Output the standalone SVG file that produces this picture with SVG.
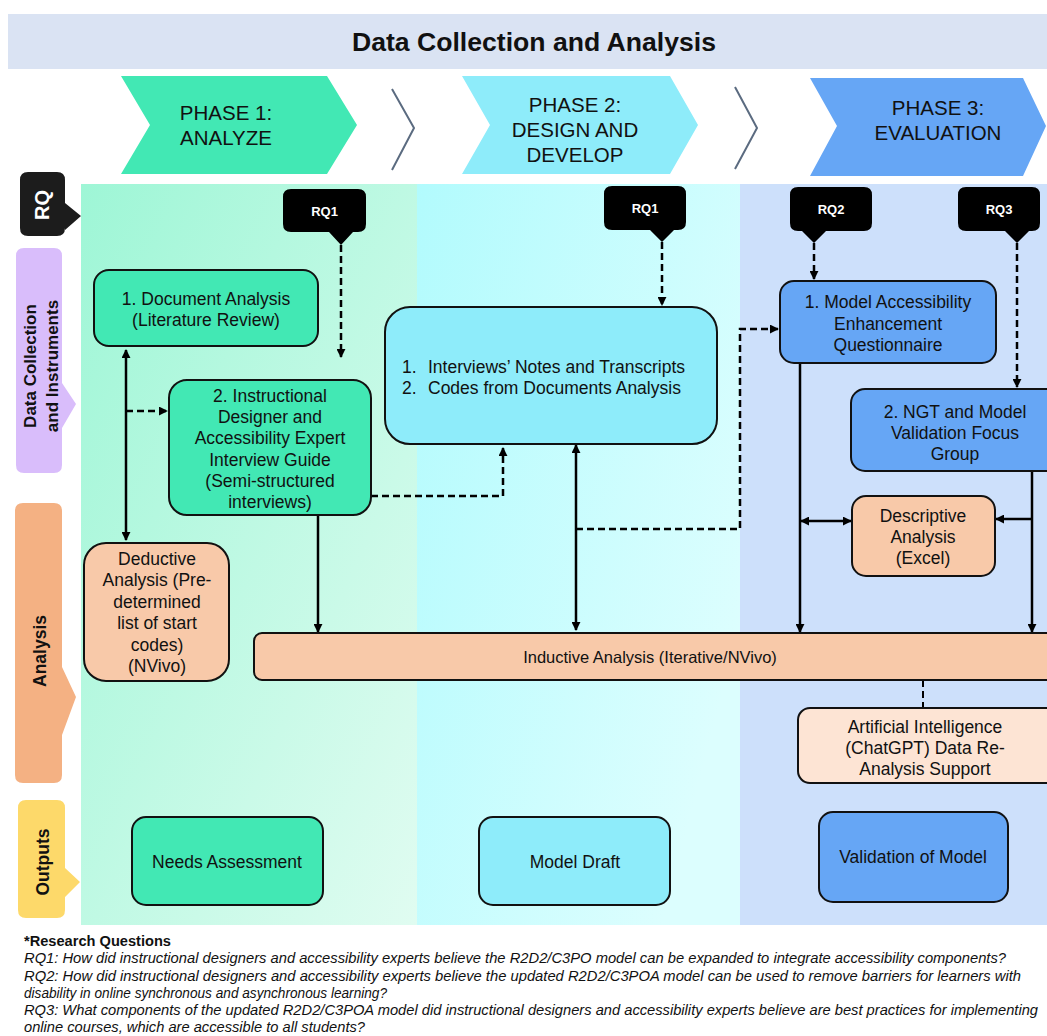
<svg xmlns="http://www.w3.org/2000/svg" width="1047" height="1036" viewBox="0 0 1047 1036">
<defs>
<linearGradient id="gp1" x1="0" y1="0" x2="1" y2="1">
<stop offset="0" stop-color="#9ef6d6"/><stop offset="1" stop-color="#e0fcf1"/>
</linearGradient>
<linearGradient id="gp2" x1="0" y1="0" x2="1" y2="0.6">
<stop offset="0" stop-color="#b2fbfd"/><stop offset="1" stop-color="#dcfefe"/>
</linearGradient>
<marker id="ah" viewBox="0 0 10 10" refX="9" refY="5" markerWidth="9" markerHeight="9" markerUnits="userSpaceOnUse" orient="auto-start-reverse">
<path d="M0,0 L10,5 L0,10 z" fill="#000"/>
</marker>
<style>
.t{font-family:"Liberation Sans",Arial,sans-serif;font-size:17.5px;fill:#111;text-anchor:middle}
.ph{font-family:"Liberation Sans",Arial,sans-serif;font-size:20.5px;fill:#111;text-anchor:middle}
.side{font-family:"Liberation Sans",Arial,sans-serif;font-weight:bold;font-size:17px;fill:#111;text-anchor:middle}
.rq{font-family:"Liberation Sans",Arial,sans-serif;font-weight:bold;font-size:13px;fill:#fff;text-anchor:middle}
.bt{font-family:"Liberation Sans",Arial,sans-serif;font-size:14.5px;font-style:italic;fill:#111}
.box{stroke:#111;stroke-width:2}
.green{fill:#42e8b4}.cyan{fill:#8eecfa}.blue{fill:#66a6f5}.peach{fill:#f8c9a9}.lpeach{fill:#fde4d4}
.c{fill:none;stroke:#000;stroke-width:2.5}
.d{fill:none;stroke:#000;stroke-width:2.5;stroke-dasharray:7 4}
.sep{fill:none;stroke:#5b6b80;stroke-width:2}
</style>
</defs>
<rect width="1047" height="1036" fill="#fff"/>
<g id="header">
<rect x="8" y="14" width="1039" height="55" fill="#dae3f3"/>
<text x="534" y="51" font-family="Liberation Sans,Arial,sans-serif" font-weight="bold" font-size="25" text-anchor="middle" fill="#111" textLength="364" lengthAdjust="spacingAndGlyphs">Data Collection and Analysis</text>
</g>
<g id="phase1-header">
<polygon points="121,76 327,76 357,125 327,174 121,174 150,125" fill="#42e8b4"/>
<text class="ph" x="226" y="120">PHASE 1:</text>
<text class="ph" x="226" y="145">ANALYZE</text>
</g>
<polyline class="sep" points="392,89 414,128 392,170"/>
<g id="phase2-header">
<polygon points="462,76 670,76 698,125 670,174 462,174 490,125" fill="#8eecfa"/>
<text class="ph" x="575" y="112">PHASE 2:</text>
<text class="ph" x="575" y="137">DESIGN AND</text>
<text class="ph" x="575" y="162">DEVELOP</text>
</g>
<polyline class="sep" points="735,87 757,128 735,169"/>
<g id="phase3-header">
<polygon points="810,78 1023,78 1046,126 1023,176 810,176 837,126" fill="#66a6f5"/>
<text class="ph" x="938" y="115">PHASE 3:</text>
<text class="ph" x="938" y="140">EVALUATION</text>
</g>
<g id="columns">
<rect x="81" y="184" width="336" height="741" fill="url(#gp1)"/>
<rect x="417" y="184" width="323" height="741" fill="url(#gp2)"/>
<rect x="740" y="184" width="307" height="741" fill="#cde0fb"/>
</g>
<g id="label-rq">
<path d="M28,172 H57 Q65,172 65,180 V203 L81,216 L65,230 V228 Q65,236 57,236 H28 Q20,236 20,228 V180 Q20,172 28,172 z" fill="#1c1c1c"/>
<text class="side" style="fill:#fff;font-size:20px" transform="translate(49,205) rotate(-90)">RQ</text>
</g>
<g id="label-data">
<path d="M24,248 H54 Q62,248 62,256 V383 L76,404 L62,428 V465 Q62,473 54,473 H24 Q16,473 16,465 V256 Q16,248 24,248 z" fill="#d9bdfb"/>
<text class="side" transform="translate(36,366) rotate(-90)">Data Collection</text>
<text class="side" transform="translate(58,366) rotate(-90)">and Instruments</text>
</g>
<g id="label-analysis">
<path d="M23,503 H54 Q62,503 62,511 V667 L76,697 L62,735 V775 Q62,783 54,783 H23 Q15,783 15,775 V511 Q15,503 23,503 z" fill="#f4b183"/>
<text class="side" style="font-size:17.5px" transform="translate(46,651) rotate(-90)">Analysis</text>
</g>
<g id="label-outputs">
<path d="M26,800 H57 Q65,800 65,808 V868 L80,882 L65,897 V910 Q65,918 57,918 H26 Q18,918 18,910 V808 Q18,800 26,800 z" fill="#fdd96a"/>
<text class="side" style="font-size:17.5px" transform="translate(49,862) rotate(-90)">Outputs</text>
</g>
<g id="rq1-a">
<path d="M291,189 H358 Q366,189 366,197 V224 Q366,232 358,232 H353 L341,245 L329,232 H291 Q283,232 283,224 V197 Q283,189 291,189 z" fill="#000"/>
<text class="rq" x="324.5" y="216">RQ1</text>
</g>
<g id="rq1-b">
<path d="M612,186 H678 Q686,186 686,194 V222 Q686,230 678,230 H674 L662,242 L650,230 H612 Q604,230 604,222 V194 Q604,186 612,186 z" fill="#000"/>
<text class="rq" x="645" y="213">RQ1</text>
</g>
<g id="rq2">
<path d="M798,187 H864 Q872,187 872,195 V223 Q872,231 864,231 H826 L814,243 L802,231 H798 Q790,231 790,223 V195 Q790,187 798,187 z" fill="#000"/>
<text class="rq" x="831" y="214">RQ2</text>
</g>
<g id="rq3">
<path d="M966,187 H1032 Q1040,187 1040,195 V223 Q1040,231 1032,231 H1029 L1017,243 L1005,231 H966 Q958,231 958,223 V195 Q958,187 966,187 z" fill="#000"/>
<text class="rq" x="999" y="214">RQ3</text>
</g>
<g id="connectors">
<line class="d" x1="341" y1="245" x2="341" y2="357" marker-end="url(#ah)"/>
<line class="c" x1="126" y1="350" x2="126" y2="540" marker-start="url(#ah)" marker-end="url(#ah)"/>
<line class="d" x1="126" y1="411" x2="167" y2="411" marker-end="url(#ah)"/>
<line class="c" x1="318" y1="515" x2="318" y2="632" marker-end="url(#ah)"/>
<polyline class="d" points="371,496 503,496 503,448" marker-end="url(#ah)"/>
<line class="d" x1="662" y1="242" x2="662" y2="305" marker-end="url(#ah)"/>
<line class="c" x1="576" y1="445" x2="576" y2="630" marker-start="url(#ah)" marker-end="url(#ah)"/>
<polyline class="d" points="576,529 740,529 740,329 778,329" marker-end="url(#ah)"/>
<line class="d" x1="814" y1="243" x2="814" y2="279" marker-end="url(#ah)"/>
<line class="d" x1="1017" y1="243" x2="1017" y2="387" marker-end="url(#ah)"/>
<line class="c" x1="800" y1="363" x2="800" y2="632" marker-end="url(#ah)"/>
<line class="c" x1="801" y1="521" x2="851" y2="521" marker-start="url(#ah)" marker-end="url(#ah)"/>
<line class="c" x1="1032" y1="471" x2="1032" y2="632" marker-end="url(#ah)"/>
<line class="c" x1="1032" y1="519" x2="996" y2="519" marker-end="url(#ah)"/>
<line class="d" x1="923" y1="680" x2="923" y2="708" style="stroke-width:2"/>
</g>
<g id="doc-analysis">
<rect class="box green" x="94" y="270" width="224" height="76" rx="15"/>
<text class="t" x="206" y="305">1. Document Analysis</text>
<text class="t" x="206" y="326">(Literature Review)</text>
</g>
<g id="interview-guide">
<rect class="box green" x="169" y="380" width="202" height="135" rx="18"/>
<text class="t" x="270" y="402">2. Instructional</text>
<text class="t" x="270" y="423">Designer and</text>
<text class="t" x="270" y="444">Accessibility Expert</text>
<text class="t" x="270" y="466">Interview Guide</text>
<text class="t" x="270" y="487">(Semi-structured</text>
<text class="t" x="270" y="508">interviews)</text>
</g>
<g id="deductive">
<rect class="box peach" x="84" y="543" width="145" height="138" rx="22"/>
<text class="t" x="157" y="565">Deductive</text>
<text class="t" x="157" y="586">Analysis (Pre-</text>
<text class="t" x="157" y="608">determined</text>
<text class="t" x="157" y="629">list of start</text>
<text class="t" x="157" y="651">codes)</text>
<text class="t" x="157" y="672">(NVivo)</text>
</g>
<g id="notes-codes">
<rect class="box cyan" x="385" y="307" width="332" height="137" rx="25"/>
<text class="t" style="text-anchor:start" x="402" y="373">1.</text>
<text class="t" style="text-anchor:start" x="428" y="373">Interviews’ Notes and Transcripts</text>
<text class="t" style="text-anchor:start" x="402" y="394">2.</text>
<text class="t" style="text-anchor:start" x="428" y="394">Codes from Documents Analysis</text>
</g>
<g id="questionnaire">
<rect class="box blue" x="780" y="281" width="216" height="82" rx="14"/>
<text class="t" x="888" y="308">1. Model Accessibility</text>
<text class="t" x="888" y="330">Enhancement</text>
<text class="t" x="888" y="351">Questionnaire</text>
</g>
<g id="ngt">
<rect class="box blue" x="851" y="389" width="210" height="82" rx="14"/>
<text class="t" x="955" y="418">2. NGT and Model</text>
<text class="t" x="955" y="439">Validation Focus</text>
<text class="t" x="955" y="460">Group</text>
</g>
<g id="descriptive">
<rect class="box peach" x="852" y="496" width="143" height="80" rx="14"/>
<text class="t" x="923" y="522">Descriptive</text>
<text class="t" x="923" y="543">Analysis</text>
<text class="t" x="923" y="564">(Excel)</text>
</g>
<g id="inductive">
<rect class="box peach" x="254" y="633" width="810" height="47" rx="8"/>
<text class="t" style="font-size:16.5px" x="650" y="663">Inductive Analysis (Iterative/NVivo)</text>
</g>
<g id="ai-support">
<rect class="box lpeach" x="798" y="708" width="265" height="75" rx="12"/>
<text class="t" x="925" y="733">Artificial Intelligence</text>
<text class="t" x="925" y="754">(ChatGPT) Data Re-</text>
<text class="t" x="925" y="775">Analysis Support</text>
</g>
<g id="needs-assessment">
<rect class="box green" x="132" y="817" width="191" height="88" rx="14"/>
<text class="t" x="227" y="868">Needs Assessment</text>
</g>
<g id="model-draft">
<rect class="box cyan" x="479" y="817" width="191" height="88" rx="14"/>
<text class="t" x="575" y="868">Model Draft</text>
</g>
<g id="validation">
<rect class="box blue" x="819" y="812" width="189" height="90" rx="14"/>
<text class="t" x="913" y="863">Validation of Model</text>
</g>
<g id="research-questions">
<text class="bt" style="font-style:normal;font-weight:bold" x="24" y="946" textLength="147" lengthAdjust="spacingAndGlyphs">*Research Questions</text>
<text class="bt" x="24" y="963" textLength="982" lengthAdjust="spacingAndGlyphs">RQ1: How did instructional designers and accessibility experts believe the R2D2/C3PO model can be expanded to integrate accessibility components?</text>
<text class="bt" x="24" y="980.5" textLength="997" lengthAdjust="spacingAndGlyphs">RQ2: How did instructional designers and accessibility experts believe the updated R2D2/C3POA model can be used to remove barriers for learners with</text>
<text class="bt" x="24" y="998" textLength="363" lengthAdjust="spacingAndGlyphs">disability in online synchronous and asynchronous learning?</text>
<text class="bt" x="24" y="1015" textLength="1014" lengthAdjust="spacingAndGlyphs">RQ3: What components of the updated R2D2/C3POA model did instructional designers and accessibility experts believe are best practices for implementing</text>
<text class="bt" x="24" y="1031.5" textLength="341" lengthAdjust="spacingAndGlyphs">online courses, which are accessible to all students?</text>
</g>
</svg>
